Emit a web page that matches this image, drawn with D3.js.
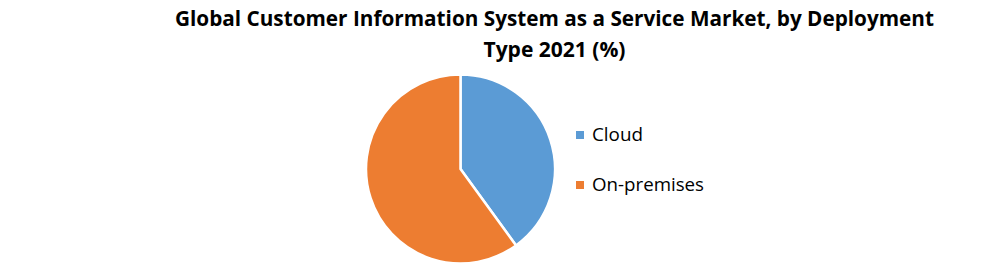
<!DOCTYPE html>
<html>
<head>
<meta charset="utf-8">
<script src="https://cdn.jsdelivr.net/npm/d3@7"></script>
<style>
  body { margin: 0; background: #fff; }
  text { font-family: "Open Sans", "Liberation Sans", sans-serif; fill: #000; }
</style>
</head>
<body>
<div id="chart"></div>
<script>
const width = 991;
const height = 268;

// datos
const titleLines = ["Global Customer Information System as a Service Market, by Deployment", "Type 2021 (%)"];
const categories = ["Cloud", "On-premises"];
const shares = [40, 60];
const colors = ["#5B9BD5", "#ED7D31"];

const svg = d3
  .select("div#chart")
  .append("svg")
  .attr("width", width)
  .attr("height", height);

// titulo
svg
  .append("g")
  .selectAll("text")
  .data(titleLines)
  .join("text")
  .attr("x", 554.5)
  .attr("y", (d, i) => 26 + i * 31)
  .attr("text-anchor", "middle")
  .attr("font-weight", "bold")
  .attr("font-size", 21)
  .attr("textLength", (d, i) => (i == 0 ? 759 : 142))
  .attr("lengthAdjust", "spacingAndGlyphs")
  .text((d) => d);

// pie
const radius = 94.5;
const pie = d3.pie().sort(null).value((d) => d);
const arc = d3.arc().innerRadius(0).outerRadius(radius);
const color = d3.scaleOrdinal().domain(categories).range(colors);

const pieGroup = svg
  .append("g")
  .attr("transform", `translate(460.5, 169)`);

pieGroup
  .selectAll("path")
  .data(pie(shares))
  .join("path")
  .attr("d", arc)
  .attr("fill", (d, i) => color(categories[i]))
  .attr("stroke", "#fff")
  .attr("stroke-width", 2.5)
  .attr("stroke-linejoin", "round");

// leyenda
const legend = svg
  .append("g")
  .selectAll("g")
  .data(categories)
  .join("g")
  .attr("transform", (d, i) => `translate(576, ${131 + i * 50})`);

legend
  .append("rect")
  .attr("width", 8)
  .attr("height", 8)
  .attr("fill", (d) => color(d));

legend
  .append("text")
  .attr("x", 16)
  .attr("y", 10)
  .attr("font-size", 18)
  .attr("textLength", (d) => (d == "Cloud" ? 51 : 112))
  .attr("lengthAdjust", "spacingAndGlyphs")
  .text((d) => d);
</script>
</body>
</html>
